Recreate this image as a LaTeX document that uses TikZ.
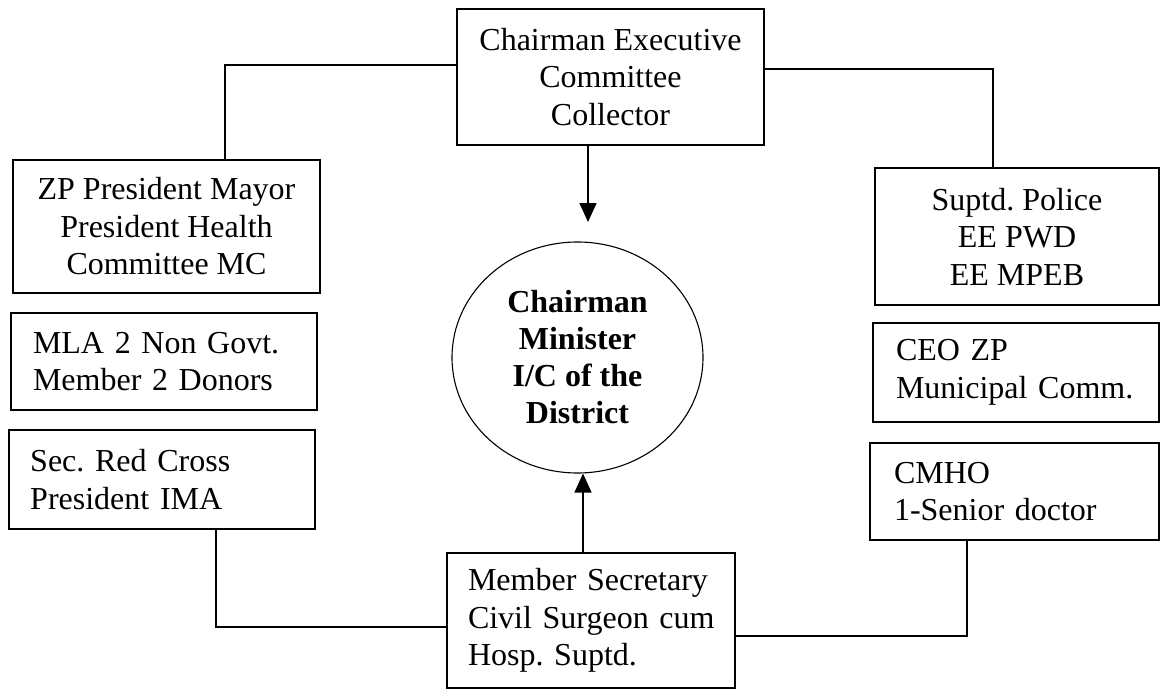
\documentclass[tikz,border=0pt]{standalone}
\usepackage{fontspec}
\setmainfont{Liberation Serif}
\usetikzlibrary{arrows.meta,shapes.geometric}
\frenchspacing
\begin{document}
\begin{tikzpicture}[x=1pt,y=-1pt,
  box/.style={draw, line width=1.6pt, inner sep=0pt, font=\fontsize{32}{37.5}\selectfont, align=center},
  lbox/.style={box, align=left},
  conn/.style={line width=1.4pt},
  arr/.style={conn, -{Triangle[length=19pt,width=17pt]}}]
\path[use as bounding box, fill=white] (0,0) rectangle (1160,693);

% boxes
\node[box, minimum width=307pt, minimum height=136pt] (top) at (610.5,77) {Chairman Executive\\Committee\\Collector};
\node[box, minimum width=307pt, minimum height=133pt] (zp) at (166.5,226.5) {ZP President Mayor\\President Health\\Committee MC};
\node[lbox, inner xsep=22pt, text width=262pt, minimum height=97pt] (mla) at (164,361.5) {\mbox{MLA 2 Non Govt.}\\\mbox{Member 2 Donors}};
\node[lbox, inner xsep=21.5pt, text width=263.5pt, minimum height=99pt] (rc) at (162,479.5) {\mbox{Sec. Red Cross}\\\mbox{President IMA}};
\node[box, minimum width=284pt, minimum height=137pt] (sup) at (1017,236.5) {Suptd. Police\\EE PWD\\EE MPEB};
\node[lbox, inner xsep=23pt, text width=240pt, minimum height=99pt] (ceo) at (1016,372.5) {\mbox{CEO ZP}\\\mbox{Municipal Comm.}};
\node[lbox, inner xsep=24pt, text width=241pt, minimum height=97pt] (cmho) at (1014.5,491.5) {\mbox{CMHO}\\\mbox{1-Senior doctor}};
\node[lbox, inner xsep=21pt, text width=246pt, minimum height=135pt] (bot) at (591,620.5) {\mbox{Member Secretary}\\\mbox{Civil Surgeon cum}\\\mbox{Hosp. Suptd.}};

% centre ellipse
\node[draw, ellipse, line width=1.1pt, minimum width=251pt, minimum height=231pt, inner sep=0pt,
      font=\fontsize{32}{37}\selectfont\bfseries, align=center] (chair) at (577.5,357.5)
      {Chairman\\Minister\\I/C of the\\District};

% connectors
\coordinate (c1) at (225,65);
\draw[conn] (top.west |- c1) -| (zp.north -| c1);
\coordinate (c2) at (993,69);
\draw[conn] (top.east |- c2) -| (sup.north -| c2);
\coordinate (c3) at (216,627);
\draw[conn] (rc.south -| c3) |- (bot.west |- c3);
\coordinate (c4) at (967,636);
\draw[conn] (bot.east |- c4) -| (cmho.south -| c4);

% arrows
\coordinate (a1) at (588,222);
\draw[arr] (top.south -| a1) -- (a1);
\coordinate (a2) at (583,474);
\draw[arr] (bot.north -| a2) -- (chair.south -| a2);
\end{tikzpicture}
\end{document}
